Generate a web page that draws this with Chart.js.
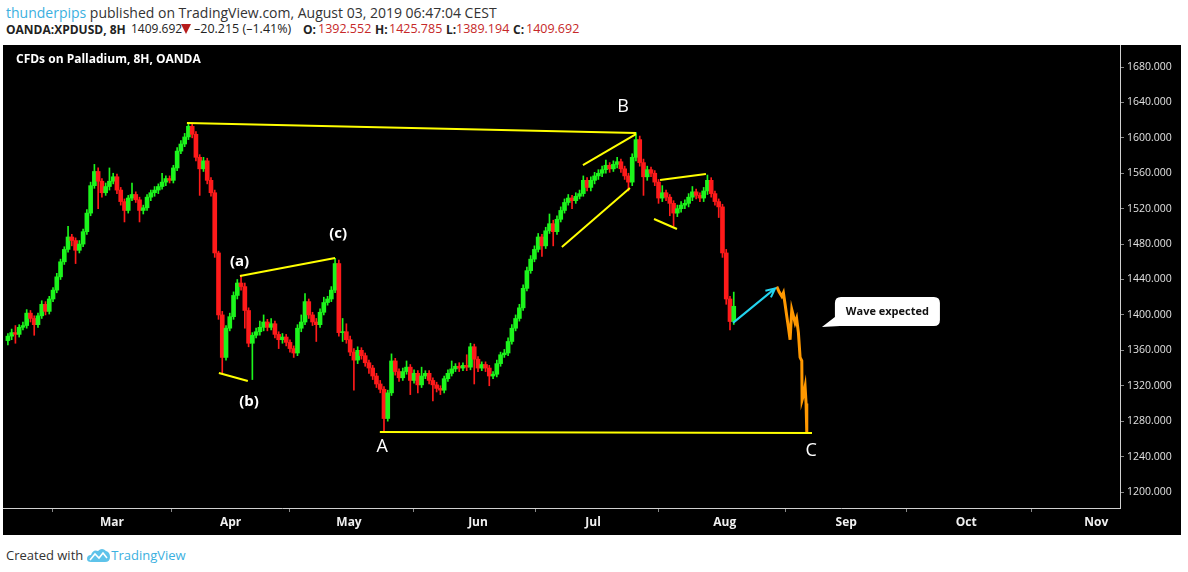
<!DOCTYPE html>
<html>
<head>
<meta charset="utf-8">
<title>OANDA:XPDUSD, 8H</title>
<script src="https://cdn.jsdelivr.net/npm/chart.js@4.4.0/dist/chart.umd.min.js"></script>
<style>
  body { margin: 0; width: 1188px; height: 572px; overflow: hidden; position: relative; background: #fff; font-family: "Liberation Sans Narrow", "Open Sans", sans-serif; }
  #cab1 { position: absolute; left: 6px; top: 3px; font-size: 14px; color: #333; white-space: nowrap; }
  #cab1 .autor { color: #3bb0e0; }
  #cab2 { position: absolute; left: 0; top: 21px; width: 600px; height: 20px; font-size: 12px; color: #222; white-space: nowrap; }
  #cab2 span { position: absolute; top: 0; }
  #cab2 .num { font-size: 12.5px; top: -1px; }
  #cab2 .ult { font-size: 12px; top: -1px; }
  #cab2 .rojo { color: #c62828; }
  #cab2 .tri { top: 3px; width: 0; height: 0; border-left: 5px solid transparent; border-right: 5px solid transparent; border-top: 10px solid #b71c1c; }
  #caja { position: absolute; left: 3px; top: 45px; width: 1178px; height: 490px; background: #000; }
  #pie { position: absolute; left: 6px; top: 546px; font-size: 13px; color: #333; white-space: nowrap; display: flex; align-items: center; }
  #pie .tv { color: #3bb0e0; }
  #pie svg { margin: 0 1px 0 4px; }
</style>
</head>
<body>
<div id="cab1"><span class="autor">thunderpips</span> published on TradingView.com, August 03, 2019 06:47:04 CEST</div>
<div id="cab2">
  <span style="left:6px"><b>OANDA:XPDUSD, 8H</b></span>
  <span class="ult" style="left:131px">1409.692</span>
  <span class="tri" style="left:181px"></span>
  <span class="num" style="left:194px">&ndash;20.215 (&ndash;1.41%)</span>
  <span style="left:303px"><b>O:</b></span><span class="num rojo" style="left:318px">1392.552</span>
  <span style="left:375px"><b>H:</b></span><span class="num rojo" style="left:389px">1425.785</span>
  <span style="left:446px"><b>L:</b></span><span class="num rojo" style="left:456px">1389.194</span>
  <span style="left:513px"><b>C:</b></span><span class="num rojo" style="left:526px">1409.692</span>
</div>
<div id="caja"><canvas id="grafica" width="1178" height="490"></canvas></div>
<div id="pie">Created with
  <svg width="23" height="16" viewBox="0 0 23 16"><path d="M0 12 Q0 8 4 8 Q6 2 11 4 Q15 0 19 4 Q23 5 23 10 Q23 15 18 15 L4 15 Q0 15 0 12 Z" fill="#5ec3ea"/><path d="M3 13 L8 7 L12 11 L16 6 L20 11" fill="none" stroke="#fff" stroke-width="1.6"/></svg>
  <span class="tv">TradingView</span></div>

<script>
// === DATOS (velas 8H, una vela cada dos barras) ===
const firstOpen = 1371;

const closesFeb = [1376,1380,1378,1386,1388,1402,1396,1389,1399,1412,1404,1418,1428,1443,1460,1474,1488,1484,1473,1480,1494,1515,1546,1562,1551,1538,1545,1551];
const highsFeb  = [1379,1384,1388,1389,1392,1406,1405,1399,1402,1416,1415,1421,1431,1447,1463,1477,1500,1491,1487,1484,1497,1519,1550,1570,1566,1554,1549,1566];
const lowsFeb   = [1366,1372,1368,1375,1383,1385,1392,1377,1386,1396,1400,1401,1415,1425,1440,1457,1471,1478,1458,1470,1477,1491,1512,1543,1520,1533,1535,1541];

const closesMar = [1556,1541,1528,1518,1532,1536,1530,1518,1521,1533,1538,1541,1545,1550,1554,1552,1566,1585,1593,1601,1613,1604,1578,1565,1574,1552,1538,1470,1400,1352,1385];
const highsMar  = [1560,1559,1544,1531,1535,1549,1539,1533,1524,1536,1541,1545,1548,1560,1557,1557,1569,1589,1597,1605,1617,1616,1607,1581,1578,1577,1555,1541,1472,1404,1388];
const lowsMar   = [1548,1537,1524,1505,1515,1529,1527,1505,1514,1518,1529,1534,1537,1542,1546,1549,1549,1563,1582,1590,1598,1600,1574,1535,1562,1548,1534,1465,1395,1334,1349];

const closesApr = [1398,1422,1436,1432,1405,1368,1377,1381,1386,1392,1386,1390,1378,1372,1375,1369,1362,1357,1385,1392,1415,1400,1392,1389,1403,1414,1418,1428,1458,1380,1381];
const highsApr  = [1402,1426,1440,1445,1436,1408,1380,1385,1393,1400,1395,1396,1393,1381,1379,1378,1372,1365,1389,1400,1424,1418,1403,1396,1407,1420,1421,1432,1464,1462,1396];
const lowsApr   = [1382,1395,1418,1428,1385,1364,1327,1374,1377,1382,1382,1383,1374,1362,1368,1365,1358,1352,1354,1381,1389,1396,1388,1370,1386,1400,1411,1415,1425,1376,1370];

const closesMay = [1372,1358,1349,1360,1354,1346,1340,1331,1322,1316,1283,1312,1348,1336,1329,1336,1341,1326,1334,1321,1331,1334,1326,1321,1317,1315,1328,1334,1339,1342,1340,1343,1341,1364,1350];
const highsMay  = [1390,1376,1362,1364,1363,1357,1349,1343,1334,1326,1319,1315,1356,1351,1339,1340,1348,1344,1338,1337,1341,1337,1337,1329,1324,1320,1331,1338,1348,1345,1346,1346,1355,1368,1367];
const lowsMay   = [1368,1354,1315,1345,1350,1342,1334,1327,1318,1312,1268,1280,1309,1332,1325,1326,1333,1310,1323,1312,1318,1328,1322,1303,1313,1310,1312,1325,1331,1336,1336,1337,1337,1338,1322];

const closesJun = [1340,1344,1340,1331,1333,1345,1355,1357,1370,1385,1396,1408,1430,1450,1463,1474,1488,1478,1495,1503,1494,1508,1518,1527,1532,1529,1534,1537,1552,1544];
const highsJun  = [1353,1347,1347,1343,1336,1349,1358,1361,1374,1389,1400,1412,1434,1454,1467,1478,1492,1491,1499,1514,1507,1512,1522,1531,1536,1535,1538,1541,1557,1555];
const lowsJun   = [1336,1337,1336,1320,1328,1330,1342,1352,1354,1367,1382,1393,1405,1427,1447,1460,1471,1466,1475,1492,1478,1491,1505,1515,1524,1520,1526,1531,1534,1540];

const closesJul = [1552,1557,1560,1564,1569,1565,1570,1573,1565,1557,1550,1578,1598,1572,1556,1564,1560,1550,1532,1538,1533,1526,1515,1520,1524,1526,1533,1539,1535,1532,1540,1552,1537,1528,1522];
const highsJul  = [1556,1561,1564,1568,1575,1572,1574,1578,1576,1568,1560,1582,1606,1602,1576,1568,1567,1563,1553,1546,1541,1536,1529,1524,1528,1530,1537,1545,1542,1538,1544,1558,1555,1540,1531];
const lowsJul   = [1540,1548,1553,1556,1560,1561,1562,1566,1561,1553,1540,1546,1574,1568,1535,1552,1556,1546,1526,1528,1529,1512,1500,1511,1516,1520,1522,1529,1531,1528,1528,1536,1533,1524,1510];

const closesAug = [1470,1418,1392.552,1409.692];
const highsAug  = [1525,1474,1421,1425.785];
const lowsAug   = [1465,1412,1383,1389.194];

// onda esperada (línea naranja)
const projX = [204.44,205.05,205.77,206.2,206.65,207.05,207.53,207.98,208.43,208.91,209.31,209.71,210.19,210.64,211.09,211.17,211.57,211.97,212.23,212.42];
const projY = [1432,1426,1421,1425,1412,1400,1386,1372,1406,1398,1391,1396,1380,1352,1348,1304,1310,1319,1300,1267];

// eje de tiempo
const monthNames = ["Mar","Apr","May","Jun","Jul","Aug","Sep","Oct","Nov"];
const monthPos = [27.66,59.2,90.7,125.0,155.6,190.6,222.9,254.8,289.4];

// === DIBUJOS (posición en vela, precio) ===
const yellowLines = [
  [47.6, 1616.7, 167.0, 1605.5],
  [61.7, 1443.9, 87.0, 1464.3],
  [56.1, 1334.4, 63.8, 1325.3],
  [98.9, 1267.7, 213.8, 1266.6],
  [147.3, 1476.7, 165.4, 1543.3],
  [152.9, 1569.3, 167.0, 1604.3],
  [173.4, 1552.4, 185.6, 1559.1],
  [171.8, 1508.3, 177.9, 1497.0]
];
const waveLabels = [
  ["(a)", 61.6, 1459.7, "bold 15px 'Open Sans'"],
  ["(b)", 64.1, 1301.6, "bold 15px 'Open Sans'"],
  ["(c)", 87.8, 1491.4, "bold 15px 'Open Sans'"],
  ["A", 99.5, 1250.8, "18px 'Open Sans'"],
  ["B", 163.6, 1634.8, "18px 'Open Sans'"],
  ["C", 213.6, 1246.3, "18px 'Open Sans'"]
];
const arrow = [192.8, 1391, 204.0, 1430];
const callout = { x: 219.9, y: 1420.2, text: "Wave expected" };

// === VELAS ===
const closes = [].concat(closesFeb, closesMar, closesApr, closesMay, closesJun, closesJul, closesAug);
const highs = [].concat(highsFeb, highsMar, highsApr, highsMay, highsJun, highsJul, highsAug);
const lows = [].concat(lowsFeb, lowsMar, lowsApr, lowsMay, lowsJun, lowsJul, lowsAug);
const opens = closes.map((c, i) => i === 0 ? firstOpen : closes[i - 1]);

const verde = "#1cf51c";
const rojo = "#ff1a1a";
const colores = closes.map((c, i) => c >= opens[i] ? verde : rojo);

const cuerpos = closes.map((c, i) => ({ x: i, y: [opens[i], c] }));
const mechas = closes.map((c, i) => ({ x: i, y: [lows[i], highs[i]] }));
const proyeccion = projX.map((x, i) => ({ x: x, y: projY[i] }));

// === ANOTACIONES ===
const anotaciones = {
  id: "anotaciones",
  afterDatasetsDraw(chart) {
    const { ctx, scales: { x, y } } = chart;
    ctx.save();

    // título
    ctx.fillStyle = "#fff";
    ctx.font = "bold 12px 'Open Sans'";
    ctx.textBaseline = "middle";
    ctx.textAlign = "left";
    ctx.fillText("CFDs on Palladium, 8H, OANDA", 13, 15);

    // líneas amarillas
    ctx.strokeStyle = "#ffff00";
    ctx.lineWidth = 2;
    yellowLines.forEach(l => {
      ctx.beginPath();
      ctx.moveTo(x.getPixelForValue(l[0]), y.getPixelForValue(l[1]));
      ctx.lineTo(x.getPixelForValue(l[2]), y.getPixelForValue(l[3]));
      ctx.stroke();
    });

    // flecha cian
    const x1 = x.getPixelForValue(arrow[0]), y1 = y.getPixelForValue(arrow[1]);
    const x2 = x.getPixelForValue(arrow[2]), y2 = y.getPixelForValue(arrow[3]);
    const ang = Math.atan2(y2 - y1, x2 - x1);
    ctx.strokeStyle = "#22d3ee";
    ctx.lineWidth = 2;
    ctx.beginPath();
    ctx.moveTo(x1, y1);
    ctx.lineTo(x2, y2);
    ctx.moveTo(x2 - 10 * Math.cos(ang - 0.45), y2 - 10 * Math.sin(ang - 0.45));
    ctx.lineTo(x2, y2);
    ctx.lineTo(x2 - 10 * Math.cos(ang + 0.45), y2 - 10 * Math.sin(ang + 0.45));
    ctx.stroke();

    // etiquetas de onda
    ctx.fillStyle = "#fff";
    ctx.textAlign = "center";
    waveLabels.forEach(t => {
      ctx.font = t[3];
      ctx.fillText(t[0], x.getPixelForValue(t[1]), y.getPixelForValue(t[2]));
    });

    // globo "Wave expected"
    const bx = x.getPixelForValue(callout.x), by = y.getPixelForValue(callout.y);
    const bw = 105, bh = 29, r = 6;
    ctx.fillStyle = "#fff";
    ctx.beginPath();
    ctx.moveTo(bx + r, by);
    ctx.lineTo(bx + bw - r, by);
    ctx.quadraticCurveTo(bx + bw, by, bx + bw, by + r);
    ctx.lineTo(bx + bw, by + bh - r);
    ctx.quadraticCurveTo(bx + bw, by + bh, bx + bw - r, by + bh);
    ctx.lineTo(bx + 5, by + bh);
    ctx.lineTo(bx - 13, by + bh + 1);
    ctx.lineTo(bx, by + 20);
    ctx.lineTo(bx, by + r);
    ctx.quadraticCurveTo(bx, by, bx + r, by);
    ctx.closePath();
    ctx.fill();
    ctx.fillStyle = "#111";
    ctx.font = "bold 11px 'Open Sans'";
    ctx.fillText(callout.text, bx + bw / 2, by + bh / 2);

    ctx.restore();
  }
};

// === GRÁFICA ===
const ctxGrafica = document.getElementById("grafica").getContext("2d");
new Chart(ctxGrafica, {
  type: "bar",
  data: {
    datasets: [
      {
        data: cuerpos,
        backgroundColor: colores,
        barThickness: 4,
        minBarLength: 1,
        grouped: false,
        order: 1
      },
      {
        data: mechas,
        backgroundColor: colores,
        barThickness: 1,
        grouped: false,
        order: 2
      },
      {
        type: "line",
        data: proyeccion,
        borderColor: "#ff9800",
        borderWidth: 3,
        pointRadius: 0,
        tension: 0,
        order: 0
      }
    ]
  },
  options: {
    responsive: false,
    devicePixelRatio: 1,
    animation: false,
    events: [],
    layout: { padding: 0 },
    plugins: { legend: { display: false }, tooltip: { enabled: false } },
    scales: {
      x: {
        type: "linear",
        min: -1.3,
        max: 295.7,
        offset: false,
        grid: { drawOnChartArea: false, color: "#888", tickLength: 4 },
        border: { color: "#d0d0d0", width: 1 },
        afterBuildTicks: scale => { scale.ticks = monthPos.map(v => ({ value: v })); },
        afterFit: scale => { scale.height = 27; scale.paddingLeft = 0; scale.paddingRight = 0; },
        ticks: {
          autoSkip: false,
          maxRotation: 0,
          color: "#f0f0f0",
          font: { family: "'Liberation Sans Narrow', 'Open Sans'", size: 12, weight: "bold" },
          padding: 3,
          callback: (v, i) => monthNames[i]
        }
      },
      y: {
        position: "right",
        min: 1181.93,
        max: 1704.85,
        grid: { drawOnChartArea: false, color: "#888", tickLength: 4 },
        border: { color: "#d0d0d0", width: 1 },
        afterFit: scale => { scale.width = 61; scale.paddingTop = 0; scale.paddingBottom = 0; },
        ticks: {
          stepSize: 40,
          includeBounds: false,
          color: "#e0e0e0",
          font: { family: "'Open Sans'", size: 10.5 },
          padding: 3,
          callback: v => v.toFixed(3)
        }
      }
    }
  },
  plugins: [anotaciones]
});
</script>
</body>
</html>
